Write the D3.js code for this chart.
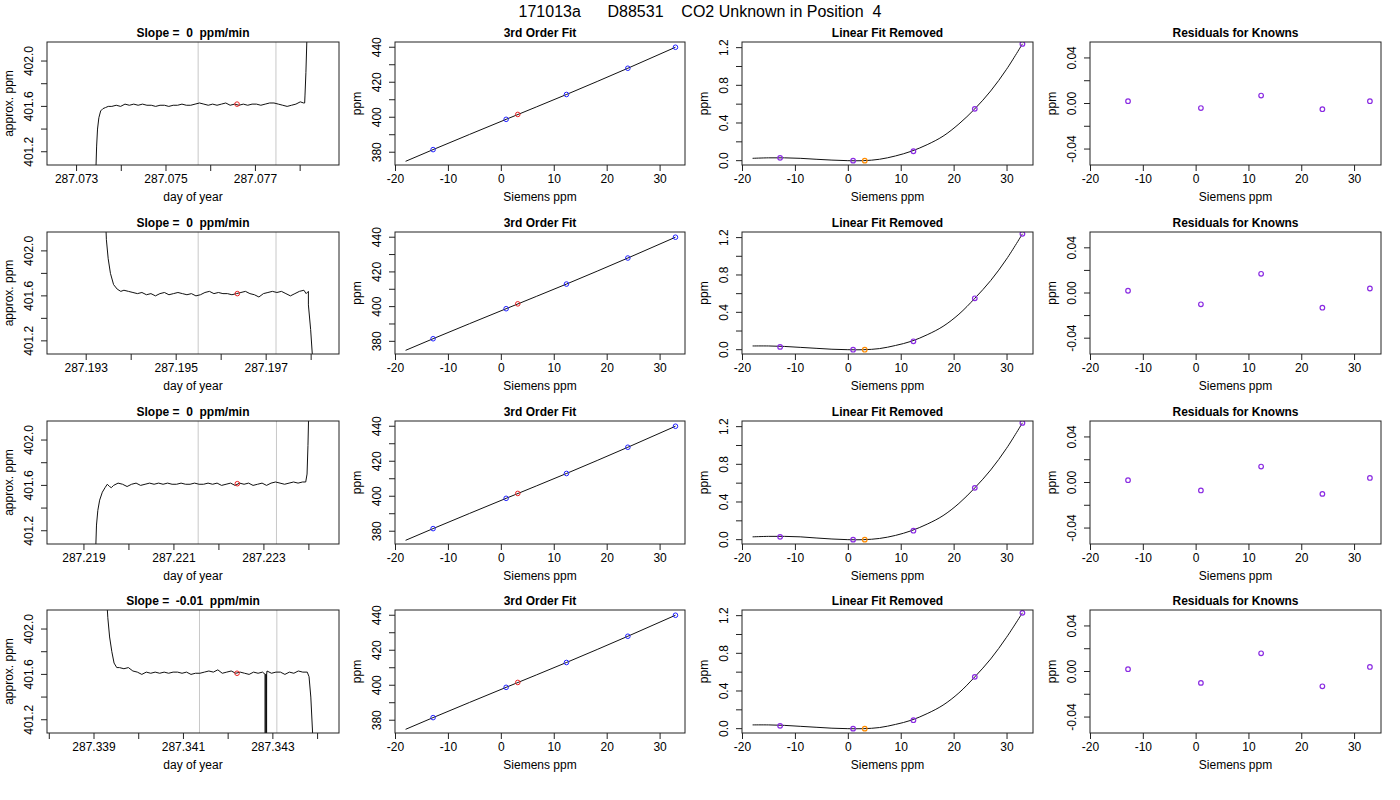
<!DOCTYPE html>
<html><head><meta charset="utf-8">
<script src="https://cdn.jsdelivr.net/npm/d3@7"></script>
<style>body{margin:0;background:#fff}text{font-family:"Liberation Sans",Arial,sans-serif}</style>
</head><body><svg id="c" width="1400" height="800"></svg>
<script>
// ---------- DATA ----------
const mainTitle = "171013a      D88531    CO2 Unknown in Position  4";
const slopeTitles = ["Slope =  0  ppm/min","Slope =  0  ppm/min","Slope =  0  ppm/min","Slope =  -0.01  ppm/min"];
// time series: base day, offsets in 1e-5 day
const tsBase = [287.073, 287.193, 287.219, 287.339];
const tsDomain = [[-65, 588], [-86, 563], [-81, 568], [-104, 549]];
const tsGray = [[273, 447], [250, 423], [255, 429], [237, 410]];
const tsRed = [[360, 401.62], [337, 401.62], [342, 401.615], [321, 401.61]];
const ramp1In = [[44,401.0],[46,401.25],[48,401.40],[51,401.50],[55,401.56],[60,401.58],[66,401.59],[72,401.60]];
const flat1 = [401.60,401.61,401.60,401.62,401.61,401.62,401.61,401.62,401.61,401.61,401.60,401.61,401.61,401.60,401.61,401.61,401.62,401.61,401.61,401.62,401.63,401.62,401.61,401.62,401.61,401.62,401.63,401.61,401.62,401.61,401.62,401.61,401.62,401.62,401.61,401.62,401.63,401.63,401.62,401.61,401.60,401.61,401.62,401.64,401.63];
const ramp1Out = [[509,401.63],[512,401.70],[514,401.90],[517,402.3]];
const ramp2In = [[44,402.3],[46,402.1],[50,401.93],[55,401.80],[62,401.70],[70,401.66],[78,401.64]];
const flat2 = [401.65,401.64,401.63,401.62,401.63,401.61,401.62,401.60,401.62,401.63,401.61,401.62,401.63,401.62,401.61,401.62,401.60,401.61,401.63,401.64,401.62,401.63,401.62,401.62,401.61,401.62,401.63,401.64,401.62,401.61,401.59,401.62,401.63,401.64,401.63,401.64,401.62,401.60,401.62,401.64,401.65,401.64];
const ramp2Out = [[490,401.62],[495,401.52],[500,401.30],[505,401.0]];
const ramp3In = [[27,401.0],[29,401.25],[32,401.38],[36,401.47],[42,401.54],[48,401.58],[53,401.61],[58,401.59],[62,401.58]];
const flat3 = [401.60,401.62,401.61,401.59,401.61,401.62,401.60,401.61,401.62,401.61,401.62,401.61,401.62,401.61,401.61,401.62,401.61,401.61,401.62,401.61,401.61,401.62,401.61,401.62,401.60,401.61,401.62,401.60,401.62,401.61,401.62,401.60,401.61,401.62,401.60,401.62,401.63,401.62,401.61,401.62,401.63,401.62,401.63];
const ramp3Out = [[494,401.63],[497,401.70],[499,401.95],[501,402.3]];
const ramp4In = [[29,402.3],[32,402.1],[36,401.93],[41,401.80],[46,401.70],[52,401.66]];
const flat4 = [401.66,401.65,401.66,401.63,401.62,401.60,401.62,401.61,401.62,401.61,401.62,401.61,401.62,401.62,401.61,401.62,401.60,401.61,401.61,401.62,401.63,401.62,401.64,401.61,401.62,401.63,401.61,401.62,401.61,401.60,401.62,401.61,401.62,401.63,401.61,401.62,401.62,401.60,401.62,401.61,401.63,401.62];
const spike4 = [[383.8,401.60],[384,400.9],[384.2,401.60],[386.8,401.60],[387,400.9],[387.2,401.60]];
const ramp4Out = [[478,401.62],[482,401.58],[486,401.40],[491,401.0]];
const rampsIn = [ramp1In, ramp2In, ramp3In, ramp4In];
const flats = [flat1, flat2, flat3, flat4];
const flatStart = [80, 85, 67, 58];
const flatStep = [9.8, 10, 10, 10];
const rampsOut = [ramp1Out, ramp2Out, ramp3Out, ramp4Out];
const spikes = [[], [], [], spike4];
// calibration
const knownX = [-12.8, 1.0, 12.4, 24.0, 33.0];
const knownY = [381.5, 398.8, 413.0, 428.0, 440.0];
const unkX = 3.2, unkY = 401.6;
const fitX = [-18, -12.8, 1, 12.4, 24, 33];
const fitY = [374.8, 381.5, 398.8, 413.0, 428.0, 440.0];
const linRemX = [-18,-15,-12,-9,-6,-3,0,3,6,9,12,15,18,21,24,27,30,33];
const linRemY = [
 [0.025,0.03,0.03,0.025,0.015,0.006,0.0,0.0,0.015,0.05,0.10,0.17,0.26,0.39,0.55,0.74,0.97,1.24],
 [0.04,0.04,0.035,0.025,0.015,0.005,0.0,0.0,0.012,0.045,0.09,0.16,0.25,0.38,0.55,0.74,0.97,1.24],
 [0.03,0.035,0.035,0.03,0.018,0.007,0.0,0.0,0.013,0.045,0.095,0.165,0.255,0.385,0.55,0.74,0.97,1.24],
 [0.04,0.04,0.035,0.025,0.015,0.005,0.0,0.0,0.012,0.045,0.09,0.16,0.25,0.38,0.55,0.74,0.97,1.23]];
const linRemKnown = [[0.03,0.0,0.10,0.55,1.24],[0.03,0.0,0.09,0.55,1.24],[0.03,0.0,0.095,0.55,1.24],[0.03,0.0,0.09,0.55,1.23]];
const linRemUnk = [0.0,0.0,0.0,0.0];
const resid = [[0.002,-0.004,0.007,-0.005,0.002],[0.002,-0.010,0.017,-0.013,0.004],[0.002,-0.007,0.014,-0.010,0.004],[0.002,-0.010,0.016,-0.013,0.004]];

// ---------- LAYOUT ----------
const svg = d3.select("#c");
svg.append("text").attr("x",700).attr("y",17).attr("text-anchor","middle").attr("font-size",16)
  .attr("xml:space","preserve").style("white-space","pre").text(mainTitle);
const colX = [[47,339],[395,685],[742,1033],[1090,1381]];
const rowY = [[42,165],[232,354],[421,544],[610,733]];
let clipId = 0;

function panel(r, c, o){
  const [x0,x1] = colX[c], [y0,y1] = rowY[r];
  const xs = d3.scaleLinear().domain(o.xd).range([x0,x1]);
  const ys = d3.scaleLinear().domain(o.yd).range([y1,y0]);
  const g = svg.append("g");
  const id = "cl"+(clipId++);
  g.append("clipPath").attr("id",id).append("rect").attr("x",x0).attr("y",y0).attr("width",x1-x0).attr("height",y1-y0);
  const pg = g.append("g").attr("clip-path",`url(#${id})`);
  const xa = g.append("g").attr("transform",`translate(0,${y1})`)
    .call(d3.axisBottom(xs).tickValues(o.xt).tickSize(6).tickPadding(3).tickFormat(o.xf));
  xa.select(".domain").remove();
  xa.selectAll("text").attr("font-size",12).attr("font-family","Liberation Sans, Arial");
  const ya = g.append("g").attr("transform",`translate(${x0},0)`)
    .call(d3.axisLeft(ys).tickValues(o.yt).tickSize(6).tickPadding(4).tickFormat(o.yf));
  ya.select(".domain").remove();
  ya.selectAll("text").attr("font-size",12).attr("font-family","Liberation Sans, Arial")
    .each(function(d){
      const t = d3.select(this); const yy = ys(d);
      t.attr("x",null).attr("dy",null).attr("text-anchor","middle")
       .attr("transform",`translate(-14,${yy}) rotate(-90)`).attr("y",0);
    });
  ya.selectAll(".tick").attr("transform","translate(0,0)");
  ya.selectAll(".tick line").attr("y1",d=>ys(d)).attr("y2",d=>ys(d));
  g.append("rect").attr("x",x0).attr("y",y0).attr("width",x1-x0).attr("height",y1-y0)
    .attr("fill","none").attr("stroke","#222").attr("stroke-width",1);
  g.append("text").attr("x",(x0+x1)/2).attr("y",y0-5).attr("text-anchor","middle")
    .attr("font-size",12).attr("font-weight","bold").attr("xml:space","preserve").style("white-space","pre").text(o.title);
  g.append("text").attr("x",(x0+x1)/2).attr("y",y1+36).attr("text-anchor","middle").attr("font-size",12).text(o.xl);
  g.append("text").attr("transform",`translate(${x0-34},${(y0+y1)/2}) rotate(-90)`).attr("text-anchor","middle").attr("font-size",12).text(o.yl);
  return {xs, ys, pg};
}

const fmt1 = d3.format(".1f"), fmt2 = d3.format(".2f");
const minus = s => s.replace("−","-");

for (let r=0;r<4;r++){
  const base = tsBase[r];
  const xt = d3.range(-100,600,100).filter(v=>v>=tsDomain[r][0]&&v<=tsDomain[r][1]);
  const p1 = panel(r,0,{xd:tsDomain[r], yd:[401.083,402.168], xt,
    xf:v=>(v>=0 && v%200===0 ? (base+v*1e-5).toFixed(3) : ""),
    yt:[401.2,401.4,401.6,401.8,402.0], yf:v=>(Math.round(v*10)%4===0? v.toFixed(1):""),
    title:slopeTitles[r], xl:"day of year", yl:"approx. ppm"});
  const series = rampsIn[r].concat(flats[r].map((v,i)=>[flatStart[r]+i*flatStep[r], v]));
  const all = series.concat(spikes[r]).concat(rampsOut[r]).sort((a,b)=>a[0]-b[0]);
  tsGray[r].forEach(gx=>p1.pg.append("line").attr("x1",p1.xs(gx)).attr("x2",p1.xs(gx)).attr("y1",rowY[r][0]).attr("y2",rowY[r][1]).attr("stroke","#c8c8c8").attr("stroke-width",1));
  p1.pg.append("path").datum(all).attr("fill","none").attr("stroke","#111").attr("stroke-width",1)
    .attr("d",d3.line().x(d=>p1.xs(d[0])).y(d=>p1.ys(d[1])));
  p1.pg.append("circle").attr("cx",p1.xs(tsRed[r][0])).attr("cy",p1.ys(tsRed[r][1])).attr("r",2.3).attr("fill","none").attr("stroke","#ee2222");

  const p2 = panel(r,1,{xd:[-20,34.8], yd:[372.7,443], xt:[-20,-10,0,10,20,30], xf:d=>minus(String(d)),
    yt:[380,390,400,410,420,430,440], yf:v=>(v%20===0? String(v):""), title:"3rd Order Fit", xl:"Siemens ppm", yl:"ppm"});
  p2.pg.append("path").datum(fitX.map((x,i)=>[x,fitY[i]])).attr("fill","none").attr("stroke","#111")
    .attr("d",d3.line().x(d=>p2.xs(d[0])).y(d=>p2.ys(d[1])).curve(d3.curveMonotoneX));
  knownX.forEach((x,i)=>p2.pg.append("circle").attr("cx",p2.xs(x)).attr("cy",p2.ys(knownY[i])).attr("r",2.3).attr("fill","none").attr("stroke","#2222ff"));
  p2.pg.append("circle").attr("cx",p2.xs(unkX)).attr("cy",p2.ys(unkY)).attr("r",2.3).attr("fill","none").attr("stroke","#ee2222");

  const p3 = panel(r,2,{xd:[-20,35], yd:[-0.046,1.26], xt:[-20,-10,0,10,20,30], xf:d=>minus(String(d)),
    yt:[0,0.2,0.4,0.6,0.8,1.0,1.2], yf:v=>(Math.round(v*10)%4===0? fmt1(v):""), title:"Linear Fit Removed", xl:"Siemens ppm", yl:"ppm"});
  p3.pg.append("path").datum(linRemX.map((x,i)=>[x,linRemY[r][i]])).attr("fill","none").attr("stroke","#111")
    .attr("d",d3.line().x(d=>p3.xs(d[0])).y(d=>p3.ys(d[1])).curve(d3.curveCatmullRom));
  knownX.forEach((x,i)=>p3.pg.append("circle").attr("cx",p3.xs(x)).attr("cy",p3.ys(linRemKnown[r][i])).attr("r",2.3).attr("fill","none").attr("stroke","#8a2be2").attr("stroke-width",1.2));
  p3.pg.append("circle").attr("cx",p3.xs(unkX)).attr("cy",p3.ys(linRemUnk[r])).attr("r",2.3).attr("fill","none").attr("stroke","#ff8c00").attr("stroke-width",1.2);

  const p4 = panel(r,3,{xd:[-20,35.1], yd:[-0.054,0.054], xt:[-20,-10,0,10,20,30], xf:d=>minus(String(d)),
    yt:[-0.04,-0.02,0,0.02,0.04], yf:v=>(Math.round(v*100)%4===0? minus(fmt2(v)):""), title:"Residuals for Knowns", xl:"Siemens ppm", yl:"ppm"});
  knownX.forEach((x,i)=>p4.pg.append("circle").attr("cx",p4.xs(x)).attr("cy",p4.ys(resid[r][i])).attr("r",2.3).attr("fill","none").attr("stroke","#8a2be2").attr("stroke-width",1.2));
}
svg.selectAll(".tick line").attr("stroke","#222");
</script></body></html>
